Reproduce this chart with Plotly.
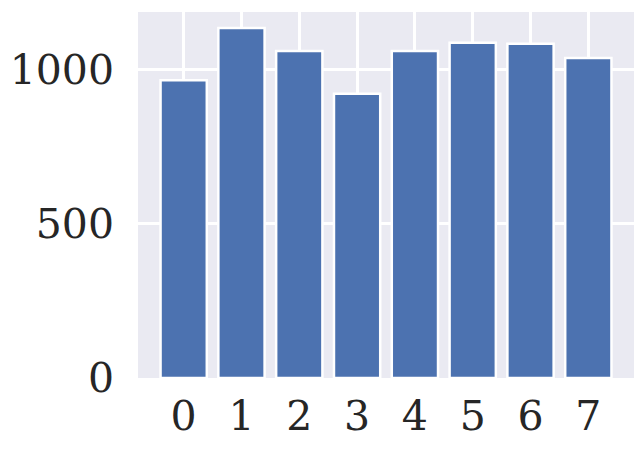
import plotly.graph_objects as go

categories = [0, 1, 2, 3, 4, 5, 6, 7]
values = [965, 1134, 1060, 921, 1060, 1086, 1083, 1037]
y_ticks = [0, 500, 1000]

fig = go.Figure(go.Bar(
    x=categories, y=values, width=0.8,
    marker=dict(color="#4C72B0", line=dict(color="white", width=2.5)),
))

font = dict(family="DejaVu Serif", size=41, color="#262626")
fig.update_layout(
    width=643, height=451,
    margin=dict(l=130, r=17, t=4, b=81),
    paper_bgcolor="white", plot_bgcolor="#EAEAF2",
    font=font, showlegend=False,
)
fig.update_xaxes(range=[-0.79, 7.79], tickvals=categories,
                 ticktext=[str(c) for c in categories],
                 showgrid=True, gridcolor="white", gridwidth=3,
                 zeroline=False, showline=False, ticks="",
                 ticklabelstandoff=10, tickfont=font, automargin=False)
fig.update_yaxes(range=[0, 1186], tickvals=y_ticks,
                 ticktext=[str(v) for v in y_ticks],
                 showgrid=True, gridcolor="white", gridwidth=3,
                 zeroline=False, showline=False, ticks="",
                 ticklabelstandoff=23, tickfont=font, automargin=False)
fig.write_html("out.html")
